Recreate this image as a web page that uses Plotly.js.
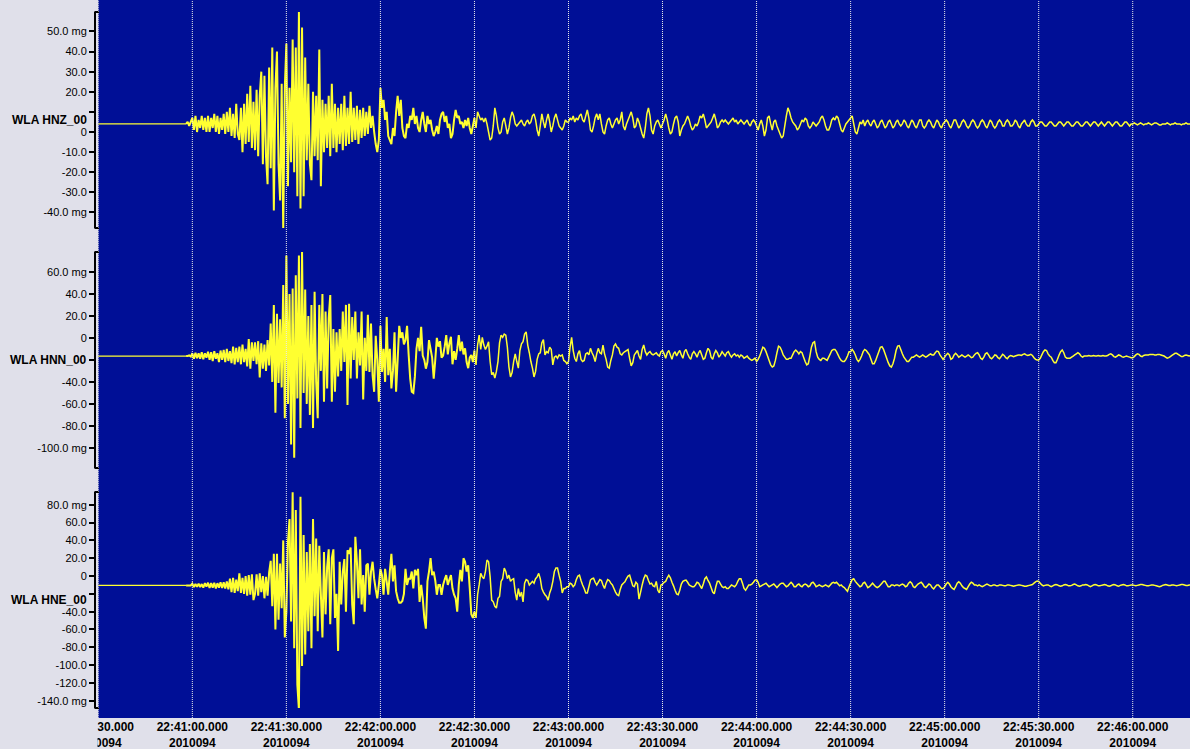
<!DOCTYPE html>
<html>
<head>
<meta charset="utf-8">
<script src="https://cdn.plot.ly/plotly-3.0.1.min.js"></script>
<style>
html,body{margin:0;padding:0;background:#e0e0ea;}
#chart{width:1190px;height:749px;}
</style>
</head>
<body>
<div id="chart"></div>
<script>
// ---------------- DATA ----------------
const dayLabel = '2010094';
const tickTimes = ['2010-04-04 22:40:30','2010-04-04 22:41:00','2010-04-04 22:41:30','2010-04-04 22:42:00',
  '2010-04-04 22:42:30','2010-04-04 22:43:00','2010-04-04 22:43:30','2010-04-04 22:44:00',
  '2010-04-04 22:44:30','2010-04-04 22:45:00','2010-04-04 22:45:30','2010-04-04 22:46:00'];
const tickTimeText = ['22:40:30.000','22:41:00.000','22:41:30.000','22:42:00.000','22:42:30.000','22:43:00.000',
  '22:43:30.000','22:44:00.000','22:44:30.000','22:45:00.000','22:45:30.000','22:46:00.000'];
const viewStart = '2010-04-04 22:40:30';
const viewEnd = '2010-04-04 22:46:18.27';

const channelNames = ['WLA HNZ_00','WLA HNN_00','WLA HNE_00'];
const preEventTimes = ['2010-04-04 22:40:20','2010-04-04 22:40:58'];
const preEventLevels = [4, -16.5, -10.5];
const sampleStartMs = Date.UTC(2010, 3, 4, 22, 40, 58);   // 2010-04-04 22:40:58 (day 094)
const sampleIntervalMs = 500;
const strongMotionSamples = 185;   // samples 22:40:58 - 22:42:30 (dense strong-motion part)

// HNZ (mg), one row = 5 s (10 samples)
const hnzValues = [
4,5,3,5,
7,1,8,0,6,2,8,1,7,0,
8,0,7,2,9,0,8,-1,7,1,
9,-1,10,0,12,-2,9,-3,14,-1,
-4,12,-10,14,-6,19,-5,23,-8,15,
-9,21,-12,18,30,-16,28,-12,-26,32,
-18,42,-39,22,40,-16,-34,24,-49,22,
44,-27,22,-15,46,-20,42,-32,60,-38,
52,-32,37,-14,24,-16,-24,20,-12,18,
-14,41,-27,16,-10,14,-8,18,-12,24,
-8,14,-10,12,-6,14,-9,18,-7,12,
-6,20,-5,12,-4,13,-6,11,-3,12,
-2,10,-1,13,2,8,0,-6,-10,-4,
22,12,16,6,10,-2,-4,-6,2,-2,
10,18,8,16,2,-2,-3,4,2,8,
6,12,4,8,2,0,6,10,4,0,
8,4,6,1,-2,0,3,-1,6,9,
10,5,8,2,4,-3,-1,6,11,7,
8,4,5,2,6,3,7,2,-1,3,
7,2,10,8,6,7,5,7,4,0,
-4,-3,3,12,8,2,-1,0,5,7,
3,-1,2,7,10,8,4,3,4,5,
6,4,3,5,6,4,5,8,9,6,
1,-2,3,9,5,2,6,9,5,0,
3,7,9,6,3,2,1,3,6,5,
5,7,6,8,5,7,6,8,9,6,
5,8,11,7,1,0,3,7,9,6,
9,4,0,-1,3,6,7,4,2,4,
6,7,4,6,10,3,1,4,6,8,
10,7,2,3,7,5,2,-1,-3,2,
9,12,8,1,-1,3,5,6,4,2,
4,6,9,6,2,-1,0,4,7,8,
5,-2,1,3,4,6,8,6,3,1,
2,4,3,5,8,7,9,6,2,3,
4,5,7,9,6,2,3,5,6,5,
6,5,4,5,6,7,5,6,4,5,
6,5,4,5,6,4,3,5,6,5,
3,1,4,6,3,-2,1,7,8,4,
1,5,6,3,1,-1,-3,-2,3,8,
12,10,7,5,4,3,1,2,4,6,
5,7,6,3,2,3,5,4,3,4,
5,7,8,6,3,1,1,3,6,7,
6,8,7,4,1,0,2,4,5,6,
7,8,4,0,-1,2,5,4,6,3,
5,6,4,3,5,6,4,2,3,5,
6,4,2,3,5,6,4,2,3,5,
6,4,3,4,6,5,3,2,4,6,
5,3,2,4,6,6,3,2,3,5,
6,5,3,2,4,6,5,3,2,4,
5,6,5,3,2,4,6,6,4,2,
3,5,6,5,3,2,3,5,6,5,
3,2,3,5,6,5,3,2,4,6,
5,3,2,3,5,6,5,3,3,5,
6,5,3,3,4,6,5,3,2,4,
5,6,4,3,3,5,6,5,3,3,
4,5,5,4,3,3,4,5,5,4,
3,3,4,5,5,4,3,4,5,5,
4,3,3,4,5,5,4,3,3,4,
5,5,4,3,4,5,5,4,3,4,
5,4,3,4,5,5,4,3,4,5,
5,4,3,3,4,5,5,4,3,4,
4,4.5,4,3.5,4,4.5,4,3.5,4,4,
4.5,4,3.5,4,4.5,4.5,4,3.5,3.5,4,
4,4,4.5,4,3.5,4,4,4.5,4,4,
4,3.5,4,4,4.5,4,4,4
];

// HNN (mg)
const hnnValues = [
-16.5,-16.5,-16,-17,
-14,-19,-13.5,-18.5,-14,-19,-13,-19.5,-14,-18,
-12.5,-20,-13,-21,-12,-19,-14,-22,-11.5,-20,
-11,-22,-10,-21,-12,-23,-8,-24,-9,-22,
-8,-24,-6,-22,-10,-26,-1,-28,-4,-21,
-4,-24,-3,-36,-5,-28,-6,-30,-2,-25,
13,-40,30,-68,22,-41,17,-45,48,-73,
75,-60,40,-97,45,-109,57,-55,75,-82,
78,-50,44,-60,20,-70,30,-82,42,-40,
-73,30,-30,40,-58,24,-46,18,39,-58,
8,-49,5,-35,8,-30,24,-22,30,-61,
31,-37,19,-20,24,-37,5,-25,24,-56,
0,-30,21,-31,13,-34,-49,2,-20,-58,
11,-31,-10,-40,19,-34,-10,-46,-30,5,
-49,-20,11,0,5,-6,-2,11,-15,-37,
-49,-50,-35,-10,0,-12,10,-16,-20,-28,
-22,-2,-10,-18,-37,-20,0,-8,-3,-18,
-16,-8,2.5,-15,-5,1,-24,-12,-20,-10,
2.5,-12,-3.5,-15,-9.5,-22,-27.5,-18,-15.5,-22,
-11.5,-24.5,-6.5,2.5,-10.5,0.5,-6.5,-10.5,-7.5,-3.5,
-21.5,-33.5,-31.5,-36.5,-30.5,-21.5,-4.5,2.5,0.5,3.5,
2.5,-8.5,-26.5,-35.5,-31.5,-21.5,-14.5,-21.5,-27.5,-11.5,
-5.5,-3.5,3.5,5.5,-6.5,-13.5,-21.5,-27.5,-35.5,-30.5,
-19.5,-14.5,-13.5,-4.5,-1.5,-15.5,-12.5,-13.5,-8.5,-10.5,
-24.5,-17.5,-16.5,-18.5,-15.5,-16.5,-15.5,-20.5,-21.5,-23.5,
-21.5,-8.5,0.5,-11.5,-18.5,-21.5,-14.5,-11.5,-19.5,-21.5,
-20.5,-14.5,-13.5,-15.5,-9.5,-13.5,-16.5,-21.5,-14.5,-9.5,
-13.5,-14.5,-6.5,-14.5,-19.5,-26.5,-27.5,-20.5,-15.5,-7.5,
-5.5,-8.5,-9.5,-14.5,-15.5,-13.5,-12.5,-11.5,-10.5,-18.5,
-25.5,-22.5,-15.5,-13.5,-11.5,-16.5,-19.5,-10.5,-6.5,-12.5,
-15.5,-13.5,-12.5,-14.5,-15.5,-14.5,-13.5,-15.5,-16.5,-12.5,
-11.5,-14.5,-18.5,-13.5,-11.5,-15.5,-19.5,-14.5,-12.5,-16.5,
-13.5,-11.5,-15.5,-18.5,-12.5,-10.5,-14.5,-17.5,-19.5,-14.5,
-12.5,-14.5,-17.5,-13.5,-11.5,-15.5,-19.5,-18.5,-13.5,-9.5,
-11.5,-17.5,-19.5,-14.5,-11.5,-13.5,-17.5,-15.5,-12.5,-14.5,
-16.5,-13.5,-12.5,-15.5,-17.5,-15.5,-14.5,-16.5,-15.5,-17.5,
-15.5,-16.5,-18.5,-17.5,-16.5,-18.5,-19.5,-20.5,-19.5,-18.5,
-21.5,-19.5,-16.5,-12.5,-8.5,-9.5,-12.5,-16.5,-20.5,-24.5,
-26.5,-25.5,-20.5,-13.5,-7.5,-8.5,-11.5,-15.5,-17.5,-19.5,
-19.5,-18.5,-18.5,-15.5,-12.5,-11,-12.5,-14.5,-12.5,-13.5,
-17.5,-21.5,-24.5,-23.5,-16.5,-8.5,-4.5,-3.5,-12.5,-17.5,
-19.5,-20.5,-18.5,-18.5,-19.5,-20.5,-17.5,-14.5,-11.5,-10.5,
-10.5,-12.5,-15.5,-18.5,-20.5,-21.5,-21.5,-19.5,-16.5,-12.5,
-12.5,-10.5,-12.5,-15.5,-19.5,-21.5,-19.5,-16.5,-12.5,-10.5,
-11.5,-13.5,-15.5,-19.5,-23.5,-23.5,-20.5,-16.5,-12.5,-8.5,
-8,-10.5,-14.5,-18.5,-22.5,-25.5,-26.5,-23.5,-18.5,-11.5,
-7.5,-7,-10.5,-14.5,-17.5,-19.5,-21.5,-21.5,-19.5,-17.5,
-17.5,-16.5,-15.5,-16.5,-17.5,-16.5,-15.5,-16.5,-17.5,-16.5,
-15.5,-14.5,-15.5,-15.5,-13.5,-12,-12.5,-15.5,-17.5,-19.5,
-17.5,-15.5,-14,-15.5,-19.5,-18.5,-15.5,-14,-15.5,-17.5,
-16.5,-15.5,-16.5,-17.5,-16.5,-15.5,-16.5,-18,-17.5,-15.5,
-14,-13.5,-15.5,-18.5,-19.5,-17.5,-14.5,-13.5,-15.5,-18,
-19,-17.5,-15.5,-16,-18,-19,-17,-15,-16,-18,
-19,-17,-16,-16.5,-17,-16.5,-16,-15.5,-15.5,-16,
-15,-14.5,-15.5,-16,-15.5,-15,-16,-18,-19.5,-20,
-20,-18.5,-15.5,-12.5,-11,-11.5,-14.5,-16.5,-17.5,-20.5,
-22.5,-22.5,-19.5,-15.5,-12.5,-11,-13.5,-17.5,-18.5,-18.5,
-18.5,-17.5,-16.5,-15.5,-14.5,-13.5,-14.5,-16.5,-17.5,-16.5,
-16.5,-16.5,-16,-16.5,-16.5,-16,-16.5,-16.5,-16,-16.5,
-16.5,-16,-16.5,-16.5,-16,-15,-14.5,-15.5,-17,-17.5,
-16.5,-15.5,-16,-17,-17.5,-17,-16.5,-17,-17.5,-18,
-18,-17,-15.5,-14.5,-15,-16.5,-17,-16,-15.5,-15.5,
-15.5,-15,-15,-15,-15.5,-15.5,-15,-15,-15.5,-16,
-16.5,-17.5,-18.5,-18,-17,-16,-15,-14,-14,-15,
-16,-17,-17,-16,-15.5,-16,-16.5,-16
];

// HNE (mg)
const hneValues = [
-10.5,-10.5,-10.5,-10.5,
-8.5,-12.5,-9,-12,-8.5,-12.5,-9,-13,-8,-12,
-7.5,-13.5,-8,-13,-7.5,-14,-8,-13,-7,-13.5,
-7,-14,-6,-15,-3,-18,-2,-19,-4,-17,
3,-19,-2,-20,0,-22,1,-21,2,-27,
-20,2,-22,3,-18,0,-25,-1,-22,4,
17,-34,25,-60,25,-49,14,-36,40,-69,
-40,38,64,-51,94,-81,74,-122,-150,89,
-101,46,-88,27,-62,36,-81,64,-45,42,
-62,34,-20,-69,27,-43,10,30,-54,20,
30,-47,-20,-84,16,-32,5,19,-40,29,
25,32,-32,-54,44,16,-25,30,-32,1,
-40,12,14,-21,5,16,-3,-15,-25,-10,
8,1,-21,8,-6,-21,5,25,-6,12,
-17,-25,-30,-30,-28,-20,8,-10,-3,-3,
5,-14,7,1,8,-29,-10,-25,-47,-59,
-6,5,20,1,5,-5,-21,-10,-10,-21,
-10,-4,1,-10,-4,1,-14,-21,-25,-40,
-10,7,-6,20,16,5,12,-14,-43,-47,
-40,-47,-21,-10,3,-1,-3,5,18,16,
-1,-27,-29,-34,-36,-25,-23,-6,-3,9,
5,-3,1,-6,-4,-3,-18,-27,-14,-23,
-18,-29,-8,-4,-5,-10,-8,-6,-8,-3,
-1,3,-3,-14,-18,-21,-23,-27,-19,-14,
-6,5,9,9,1,-6,-19,-14,-14,-12,
-12,-8,-9,-12,-10,-4,0,1,-5,-10,
-14,-19,-19,-12,-4.5,-3,-2.5,-7,-10,-7,
-4,-5,-10,-14,-8,-4,-5,-8,-10,-14,
-18,-21,-22,-15,-10,-8,-6.5,-3,0,1,
-5,-11,-12,-7,-9,-26,-18,-10,-3,1,
0,-5,-9,-8,-11,-12,-6,-16,-19,-10,
-9,-7,-6,-2,1,-2,-7,-11,-16,-20,
-21,-16,-9,-6,-5,-4.5,-7,-10,-11,-12,
-12,-10,-7,-8,-11,-14,-9,-3,-1,-5,
-8,-13,-18,-20,-12,-6,-6,-9,-12,-13,
-12,-14,-14,-12,-10,-11,-12,-10,-6,-3,
-3,-8,-14,-16,-13,-10,-10,-9,-7,-4.5,
-4,-7,-12,-11,-10,-9,-8,-10,-12,-11,
-10,-9,-11,-13,-11,-9,-8,-8,-10,-12,
-11,-9,-7,-9,-12,-12,-10,-9,-11,-12,
-10,-9,-10,-12,-11,-8,-7,-9,-12,-11,
-10,-11,-12,-11,-10,-11,-12,-10,-8,-7,
-8,-7,-9,-11,-10,-12,-13,-15,-17,-12,
-8,-4,-3,-6,-8,-10,-12,-11,-8,-7,
-10,-13,-12,-10,-8,-10,-12,-13,-12,-10,
-8,-6,-6,-9,-12,-12,-10,-10,-11,-10,
-10,-11,-10,-9,-10,-12,-11,-8,-6.5,-8,
-12,-13,-11,-9,-8,-7,-9,-12,-13,-11,
-9,-10,-13,-14.5,-12,-10,-10,-12,-14,-14,
-12,-9,-7,-9,-12,-14,-15,-12,-8,-6.5,
-8,-11,-13,-14,-15,-12,-9,-7,-8,-10,
-10,-11,-10,-11,-12,-11,-10,-9,-10,-11,
-11,-10,-10,-11,-11,-10,-10,-10.5,-11,-11,
-10,-10,-10.5,-11,-11.5,-11,-10.5,-10,-10,-10.5,
-11,-11.5,-11.5,-11,-10.5,-10,-9.5,-8,-6.5,-5.5,
-6,-8,-10,-11,-10.5,-10,-10,-11,-12,-11,
-10,-9.5,-10,-11,-11.5,-11,-10,-9.5,-10,-11,
-11,-10.5,-9.5,-9,-10,-11,-11.5,-11,-10,-10,
-9.5,-10,-11,-12,-11,-10,-9.5,-10,-11,-11,
-10.5,-10,-9.5,-10,-11,-11.5,-11,-10,-9.5,-10,
-11,-11.5,-10.5,-10,-9.5,-10,-11,-11,-10.5,-10,
-10,-10.5,-11,-10.5,-10,-9.5,-9.5,-10,-10.5,-11,
-11,-10.5,-10,-10,-10.5,-11,-11.5,-12,-11.5,-10.5,
-10,-9.5,-10,-10.5,-10.5,-10,-10,-10.5,-11,-10.5,
-10,-9.5,-9.5,-10,-10.5,-10.5,-10,-10
];

const hnzTickVals = [50,40,30,20,10,0,-10,-20,-30,-40];
const hnzTickText = ['50.0 mg','40.0','30.0','20.0','','0','-10.0','-20.0','-30.0','-40.0 mg'];
const hnnTickVals = [60,40,20,0,-20,-40,-60,-80,-100];
const hnnTickText = ['60.0 mg','40.0','20.0','0','','-40.0','-60.0','-80.0','-100.0 mg'];
const hneTickVals = [80,60,40,20,0,-20,-40,-60,-80,-100,-120,-140];
const hneTickText = ['80.0 mg','60.0','40.0','20.0','0','','-40.0','-60.0','-80.0','-100.0','-120.0','-140.0 mg'];

// ---------------- STYLE / LAYOUT ----------------
const paperColor = '#e0e0ea';
const plotColor = '#000f96';
const traceColor = '#ffff30';
const gridColor = '#e8e8e8';

const channelValues = [hnzValues, hnnValues, hneValues];
const channelTickVals = [hnzTickVals, hnnTickVals, hneTickVals];
const channelTickText = [hnzTickText, hnnTickText, hneTickText];
const yDomains = [[0.68245, 0.98329], [0.34819, 0.64903], [0.01393, 0.31476]];
const yRanges = [[-47.74, 59.67], [-118.3, 78.1], [-148.1, 94.3]];
const labelY = [0.8322, 0.4982, 0.1639];
const axisIds = ['y', 'y2', 'y3'];
const axisKeys = ['yaxis', 'yaxis2', 'yaxis3'];

const traces = [];
channelValues.forEach((vals, i) => {
  const split = strongMotionSamples - 1;
  // quiet pre-event trace
  traces.push({
    type: 'scatter', mode: 'lines', xaxis: 'x', yaxis: axisIds[i],
    x: preEventTimes, y: preEventTimes.map(() => preEventLevels[i]),
    line: {color: traceColor, width: 1.2}, hoverinfo: 'skip', showlegend: false
  });
  // strong-motion part (dense, drawn with a heavier pen)
  traces.push({
    type: 'scatter', mode: 'lines', xaxis: 'x', yaxis: axisIds[i],
    x0: sampleStartMs, dx: sampleIntervalMs, y: vals.slice(0, strongMotionSamples),
    line: {color: traceColor, width: 2, simplify: false}, hoverinfo: 'skip', showlegend: false
  });
  // coda
  traces.push({
    type: 'scatter', mode: 'lines', xaxis: 'x', yaxis: axisIds[i],
    x0: sampleStartMs + split * sampleIntervalMs, dx: sampleIntervalMs, y: vals.slice(split),
    line: {color: traceColor, width: 1.5, simplify: false}, hoverinfo: 'skip', showlegend: false
  });
});

const plotW = 1095;
const xDomainStart = 3.3 / plotW;

const layout = {
  width: 1190, height: 749,
  margin: {l: 95, r: 0, t: 0, b: 31, pad: 0},
  paper_bgcolor: paperColor,
  plot_bgcolor: 'rgba(0,0,0,0)',
  showlegend: false,
  xaxis: {
    type: 'date', domain: [xDomainStart, 1], range: [viewStart, viewEnd],
    anchor: 'free', position: 0,
    tickmode: 'array', tickvals: tickTimes,
    ticktext: tickTimeText.map(t => t + '<br>' + dayLabel),
    ticks: '', showgrid: false, zeroline: false, showline: false,
    tickfont: {family: 'Liberation Sans, Arial, sans-serif', size: 12, color: '#000', weight: 'bold'},
    automargin: false, fixedrange: true
  },
  shapes: [],
  annotations: []
};

channelValues.forEach((vals, i) => {
  layout[axisKeys[i]] = {
    domain: yDomains[i], range: yRanges[i],
    anchor: 'free', position: 0,
    tickmode: 'array', tickvals: channelTickVals[i], ticktext: channelTickText[i],
    ticks: 'outside', ticklen: 5, tickwidth: 2, tickcolor: '#000',
    showline: true, linecolor: '#000', linewidth: 2,
    showgrid: false, zeroline: false,
    tickfont: {family: 'Liberation Sans, Arial, sans-serif', size: 11, color: '#000'},
    automargin: false, fixedrange: true
  };
  layout.annotations.push({
    xref: 'paper', yref: 'paper', x: -0.0055, y: labelY[i],
    xanchor: 'right', yanchor: 'middle', showarrow: false,
    text: channelNames[i],
    font: {family: 'Liberation Sans, Arial, sans-serif', size: 12, color: '#000', weight: 'bold'}
  });
});

// plot background
layout.shapes.push({type: 'rect', xref: 'paper', yref: 'paper', x0: xDomainStart, x1: 1, y0: 0, y1: 1,
  fillcolor: plotColor, line: {width: 0}, layer: 'below'});
// bracket caps
yDomains.forEach(d => {
  d.forEach(yv => {
    layout.shapes.push({type: 'line', xref: 'paper', yref: 'paper', x0: -0.0005, x1: 4 / plotW, y0: yv, y1: yv,
      line: {color: '#000', width: 2}, layer: 'above'});
  });
});
// dotted time grid
tickTimes.forEach(t => {
  layout.shapes.push({type: 'line', xref: 'x', yref: 'paper', x0: t, x1: t, y0: 0, y1: 1,
    line: {color: gridColor, width: 1, dash: '1px,1px'}, layer: 'above'});
});
// clip the leftmost time label at the plot edge
layout.shapes.push({type: 'rect', xref: 'paper', yref: 'paper', x0: -0.1, x1: 2.5 / plotW, y0: -0.05, y1: -0.0007,
  fillcolor: paperColor, line: {width: 0}, layer: 'above'});

Plotly.newPlot('chart', traces, layout, {staticPlot: true, displayModeBar: false});
</script>
</body>
</html>
